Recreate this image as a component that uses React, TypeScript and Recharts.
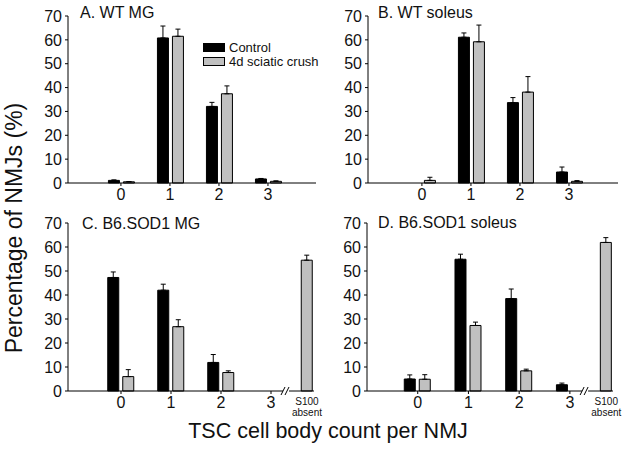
import { BarChart, Bar, XAxis, YAxis, ErrorBar, ReferenceDot } from 'recharts'

const FONT = '"Liberation Sans", Arial, Helvetica, sans-serif'

const S100X = 3.57
const BREAK_X = 3.3

const countTicks = [0, 1, 2, 3]
const countTicksAbsent = [0, 1, 2, 3, S100X]
const yTicks = [0, 10, 20, 30, 40, 50, 60, 70]

const countsAB = [0, 1, 2, 3]
const countsCD = [0, 1, 2, 3, S100X]

// A. WT MG
const aControl = [1.1, 60.8, 32.1, 1.7]
const aControlErr = [0.2, 5.0, 1.7, 0.2]
const aCrush = [0.5, 61.5, 37.4, 0.7]
const aCrushErr = [0.1, 3.0, 3.3, 0.2]

// B. WT soleus
const bControl = [null, 61.1, 33.7, 4.6]
const bControlErr = [null, 1.8, 2.1, 2.1]
const bCrush = [1.1, 59.2, 38.1, 0.7]
const bCrushErr = [1.3, 7.0, 6.5, 0.3]

// C. B6.SOD1 MG
const cControl = [47.3, 42.0, 11.9, null, null]
const cControlErr = [2.3, 2.5, 3.3, null, null]
const cCrush = [6.0, 26.8, 7.7, null, 54.5]
const cCrushErr = [2.9, 2.9, 0.7, null, 2.1]

// D. B6.SOD1 soleus
const dControl = [5.0, 54.9, 38.5, 2.6, null]
const dControlErr = [1.7, 2.1, 4.0, 0.7, null]
const dCrush = [4.9, 27.3, 8.4, null, 61.9]
const dCrushErr = [1.9, 1.4, 0.7, null, 2.0]

const legendItems = [
  { label: 'Control', color: '#000' },
  { label: '4d sciatic crush', color: '#c0c0c0' },
]

const build = (
  xs: number[],
  control: (number | null)[],
  controlErr: (number | null)[],
  crush: (number | null)[],
  crushErr: (number | null)[],
) =>
  xs.map((x, i) => ({
    x,
    control: control[i],
    controlErr: controlErr[i] == null ? null : [0, controlErr[i]],
    crush: crush[i],
    crushErr: crushErr[i] == null ? null : [0, crushErr[i]],
  }))

const tickStyle = { fill: '#111', fontSize: 16, fontFamily: FONT }

function AbsentTick(props: any) {
  const { x, y, payload } = props
  if (payload.value === S100X) {
    return (
      <text x={x + 7.5} y={y + 8} textAnchor="middle" fontSize={10} fontFamily={FONT} fill="#111">
        <tspan x={x + 7.5} dy="0">S100</tspan>
        <tspan x={x + 7.5} dy="11">absent</tspan>
      </text>
    )
  }
  return (
    <g>
      <line x1={x} x2={x} y1={y - 6} y2={y - 3} stroke="#000" />
      <text x={x} y={y} dy="0.71em" textAnchor="middle" fontSize={16} fontFamily={FONT} fill="#111">
        {payload.value}
      </text>
    </g>
  )
}

function BreakMark(props: any) {
  const { cx, cy } = props
  return (
    <g>
      <rect x={cx - 3} y={cy - 2} width={6} height={4} fill="#fff" />
      <line x1={cx - 5} y1={cy + 4} x2={cx - 1} y2={cy - 4} stroke="#000" strokeWidth={1} />
      <line x1={cx - 1} y1={cy + 4} x2={cx + 3} y2={cy - 4} stroke="#000" strokeWidth={1} />
    </g>
  )
}

interface PanelProps {
  data: any[]
  width: number
  height: number
  margin: { top: number; right: number; bottom: number; left: number }
  yWidth: number
  domain: [number, number]
  absent?: boolean
}

function Panel({ data, width, height, margin, yWidth, domain, absent }: PanelProps) {
  return (
    <BarChart width={width} height={height} data={data} margin={margin} barSize={11} barGap={4}>
      <XAxis
        dataKey="x"
        type="number"
        domain={domain}
        ticks={absent ? countTicksAbsent : countTicks}
        allowDataOverflow
        stroke="#000"
        tickSize={3}
        tickMargin={3}
        height={absent ? 30 : 22}
        tickLine={!absent}
        tick={absent ? <AbsentTick /> : tickStyle}
        interval={0}
      />
      <YAxis
        domain={[0, 70]}
        ticks={yTicks}
        width={yWidth}
        stroke="#000"
        tickSize={3}
        tickMargin={3}
        tick={tickStyle}
        interval={0}
      />
      <Bar dataKey="control" fill="#000" stroke="#000" strokeWidth={1} isAnimationActive={false}>
        <ErrorBar dataKey="controlErr" width={2.5} stroke="#000" strokeWidth={1} direction="y" />
      </Bar>
      <Bar dataKey="crush" fill="#c0c0c0" stroke="#000" strokeWidth={1} isAnimationActive={false}>
        <ErrorBar dataKey="crushErr" width={2.5} stroke="#000" strokeWidth={1} direction="y" />
      </Bar>
      {absent && <ReferenceDot x={BREAK_X} y={0} ifOverflow="visible" shape={<BreakMark />} />}
    </BarChart>
  )
}

const titleStyle = (left: number, top: number): React.CSSProperties => ({
  position: 'absolute',
  left,
  top,
  fontFamily: FONT,
  fontSize: 16,
  color: '#111',
  lineHeight: '16px',
  whiteSpace: 'nowrap',
})

export default function App() {
  const dataA = build(countsAB, aControl, aControlErr, aCrush, aCrushErr)
  const dataB = build(countsAB, bControl, bControlErr, bCrush, bCrushErr)
  const dataC = build(countsCD, cControl, cControlErr, cCrush, cCrushErr)
  const dataD = build(countsCD, dControl, dControlErr, dCrush, dCrushErr)

  return (
    <div style={{ position: 'absolute', left: 0, top: 0, width: 629, height: 450, background: '#fff' }}>
      <div style={{ position: 'absolute', left: 0, top: 0 }}>
        <Panel data={dataA} width={320} height={210} margin={{ top: 16, right: 4, bottom: 5, left: 8 }} yWidth={60} domain={[-1.08, 3.98]} />
      </div>
      <div style={{ position: 'absolute', left: 308, top: 0 }}>
        <Panel data={dataB} width={321} height={210} margin={{ top: 16, right: 11, bottom: 5, left: 0 }} yWidth={60} domain={[-1.1, 4.0]} />
      </div>
      <div style={{ position: 'absolute', left: 0, top: 200 }}>
        <Panel data={dataC} width={334} height={240} margin={{ top: 23, right: 20, bottom: 19, left: 8 }} yWidth={60} domain={[-1.06, 3.86]} absent />
      </div>
      <div style={{ position: 'absolute', left: 308, top: 200 }}>
        <Panel data={dataD} width={321} height={240} margin={{ top: 23, right: 16, bottom: 19, left: 0 }} yWidth={59} domain={[-1.0, 3.85]} absent />
      </div>

      <div style={{ position: 'absolute', left: 203, top: 40, fontFamily: FONT, fontSize: 13, color: '#111' }}>
        {legendItems.map((it) => (
          <div key={it.label} style={{ display: 'flex', alignItems: 'center', height: 14 }}>
            <span
              style={{
                display: 'inline-block',
                width: 20,
                height: 7,
                background: it.color,
                border: '1px solid #000',
                marginRight: 4,
              }}
            />
            {it.label}
          </div>
        ))}
      </div>

      <div style={titleStyle(80, 5)}>A. WT MG</div>
      <div style={titleStyle(378, 5)}>B. WT soleus</div>
      <div style={titleStyle(82, 216)}>C. B6.SOD1 MG</div>
      <div style={titleStyle(378, 215)}>D. B6.SOD1 soleus</div>

      <div
        style={{
          position: 'absolute',
          left: 14,
          top: 228,
          transform: 'translate(-50%, -50%) rotate(-90deg)',
          fontFamily: FONT,
          fontSize: 23,
          color: '#111',
          whiteSpace: 'nowrap',
        }}
      >
        Percentage of NMJs (%)
      </div>
      <div
        style={{
          position: 'absolute',
          left: 328,
          top: 431,
          transform: 'translate(-50%, -50%)',
          fontFamily: FONT,
          fontSize: 21.5,
          color: '#111',
          whiteSpace: 'nowrap',
        }}
      >
        TSC cell body count per NMJ
      </div>
    </div>
  )
}
